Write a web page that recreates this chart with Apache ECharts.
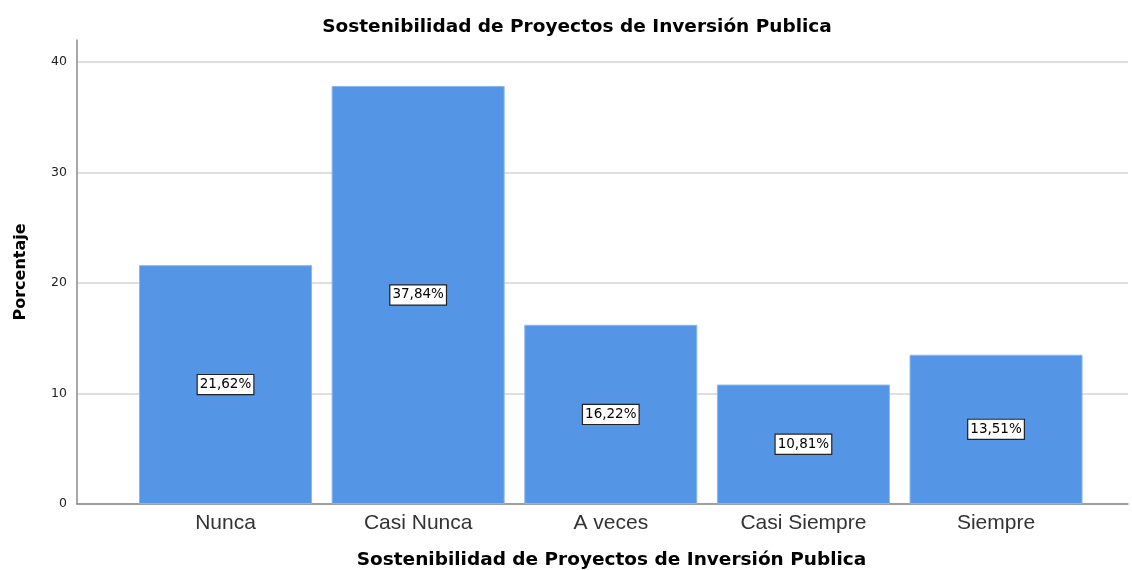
<!DOCTYPE html>
<html>
<head>
<meta charset="utf-8">
<script src="https://cdn.jsdelivr.net/npm/echarts@6/dist/echarts.min.js"></script>
<style>
  html, body { margin: 0; padding: 0; background: #fff; }
  #chart { width: 1132px; height: 570px; }
</style>
</head>
<body>
<div id="chart"></div>
<script>
// datos
var categorias = ['Nunca', 'Casi Nunca', 'A veces', 'Casi Siempre', 'Siempre'];
var porcentajes = [21.62, 37.84, 16.22, 10.81, 13.51];
var posiciones = [1, 2, 3, 4, 5];
var ticksY = [0, 10, 20, 30, 40];

var fuente = 'DejaVu Sans, sans-serif';
var fuenteCat = 'Liberation Sans, Arial, sans-serif';

var chart = echarts.init(document.getElementById('chart'));
chart.setOption({
  animation: false,
  title: {
    text: 'Sostenibilidad de Proyectos de Inversión Publica',
    left: 572, top: 13, textAlign: 'center',
    textStyle: { fontFamily: fuente, fontSize: 18.5, fontWeight: 'bold', color: '#000' }
  },
  grid: { left: 77, right: 4, top: 40, bottom: 66, outerBoundsMode: 'none' },
  xAxis: {
    type: 'value',
    min: 0.229, max: 5.685,
    name: 'Sostenibilidad de Proyectos de Inversión Publica',
    nameLocation: 'middle', nameGap: 47,
    nameTextStyle: { fontFamily: fuente, fontSize: 18.5, fontWeight: 'bold', color: '#000', padding: [0, 0, 0, 18] },
    axisLine: { show: true, lineStyle: { color: '#8a8a8a', width: 1.5 } },
    axisTick: { show: false },
    splitLine: { show: false },
    axisLabel: {
      customValues: posiciones,
      formatter: function (v) { return categorias[Math.round(v) - 1] || ''; },
      fontFamily: fuenteCat, fontSize: 21, color: '#333', margin: 9
    }
  },
  yAxis: {
    type: 'value',
    min: 0, max: 42, interval: 10,
    name: 'Porcentaje',
    nameLocation: 'middle', nameGap: 48, nameRotate: 90,
    nameTextStyle: { fontFamily: fuente, fontSize: 16, fontWeight: 'bold', color: '#000' },
    axisLine: { show: true, lineStyle: { color: '#8a8a8a', width: 1.5 } },
    axisTick: { show: false },
    axisLabel: {
      customValues: ticksY,
      fontFamily: fuente, fontSize: 12.5, color: '#222', margin: 10
    },
    splitLine: { show: true, showMaxLine: false, lineStyle: { color: '#d4d4d4', width: 1.5 } }
  },
  series: [{
    type: 'bar',
    barWidth: 173,
    data: posiciones.map(function (p, i) { return [p, porcentajes[i]]; }),
    itemStyle: { color: '#5595e5', borderColor: '#8ab6ee', borderWidth: 1 },
    label: {
      show: true, position: 'inside',
      formatter: function (p) { return p.value[1].toFixed(2).replace('.', ',') + '%'; },
      fontFamily: fuente, fontSize: 13.5, color: '#000',
      backgroundColor: '#fff', borderColor: '#222', borderWidth: 1.2,
      padding: [3, 2, 2, 2]
    }
  }]
});
</script>
</body>
</html>
